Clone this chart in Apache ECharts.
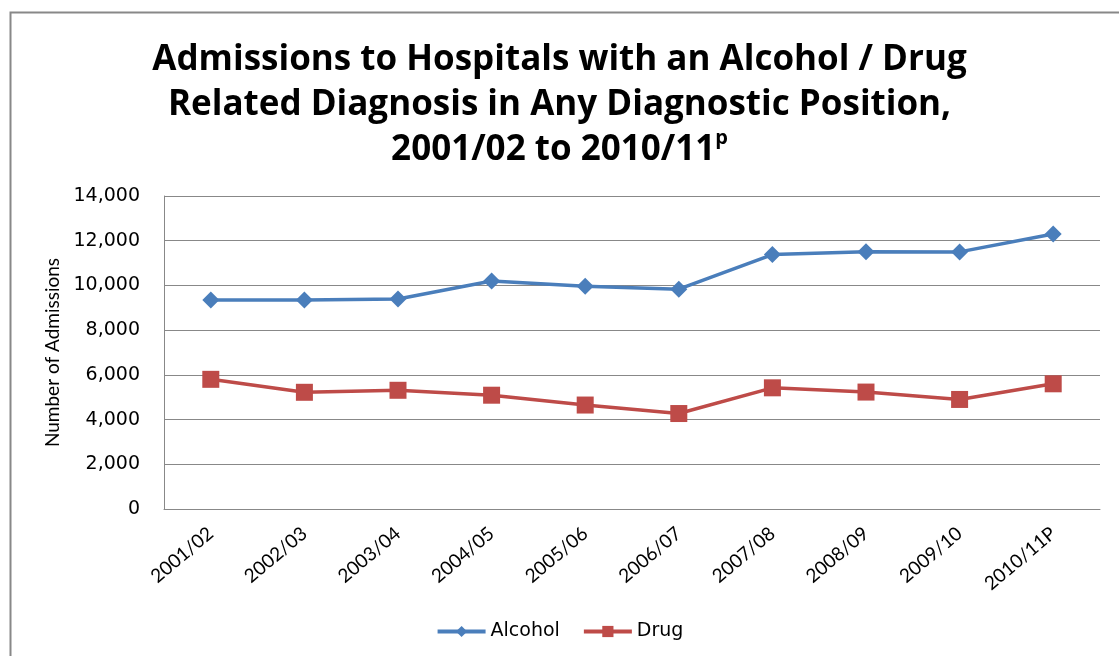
<!DOCTYPE html>
<html><head><meta charset="utf-8">
<script src="https://cdn.jsdelivr.net/npm/echarts@6/dist/echarts.min.js"></script>
<style>html,body{margin:0;padding:0;background:#fff}#c{width:1119px;height:656px}</style>
</head><body><div id="c"></div>
<script>
const categories = ['2001/02','2002/03','2003/04','2004/05','2005/06','2006/07','2007/08','2008/09','2009/10','2010/11P'];
const alcohol = [9350, 9350, 9390, 10200, 9960, 9830, 11380, 11510, 11500, 12300];
const drug = [5800, 5220, 5310, 5090, 4650, 4270, 5420, 5230, 4900, 5600];
const yTicks = {min: 0, max: 14000, interval: 2000};

const chart = echarts.init(document.getElementById('c'), null, {renderer: 'canvas'});
chart.setOption({
  backgroundColor: '#fff',
  animation: false,
  graphic: [{type: 'rect', shape: {x: 10.5, y: 12.5, width: 1130, height: 700}, style: {fill: 'none', stroke: '#888', lineWidth: 2}}],
  title: {
    text: 'Admissions to Hospitals with an Alcohol / Drug\nRelated Diagnosis in Any Diagnostic Position,\n2001/02 to 2010/11{sup|p}',
    left: 'center', top: 33,
    textStyle: {
      fontFamily: 'Open Sans', fontWeight: 'bold', fontSize: 35, color: '#000', lineHeight: 45,
      rich: {sup: {fontFamily: 'Open Sans', fontWeight: 'bold', fontSize: 20, verticalAlign: 'top', lineHeight: 45, padding: [0,0,14,0]}}
    }
  },
  legend: {
    bottom: 10, left: 'center', itemWidth: 48, itemHeight: 14, itemGap: 22,
    textStyle: {fontFamily: 'DejaVu Sans', fontSize: 19, color: '#000'},
    lineStyle: {width: 4},
    data: ['Alcohol', 'Drug']
  },
  grid: {left: 164, right: 19, top: 196, bottom: 147, containLabel: false},
  xAxis: {
    type: 'category', data: categories, boundaryGap: true,
    axisLine: {lineStyle: {color: '#888', width: 1}},
    axisTick: {show: false},
    axisLabel: {rotate: 40, fontFamily: 'Lato', fontSize: 19, color: '#000', margin: 22, interval: 0}
  },
  yAxis: {
    type: 'value', min: yTicks.min, max: yTicks.max, interval: yTicks.interval,
    name: 'Number of Admissions', nameLocation: 'middle', nameGap: 100, nameRotate: 90,
    nameTextStyle: {fontFamily: 'Lato', fontSize: 19, color: '#000'},
    axisLine: {show: true, lineStyle: {color: '#888'}},
    axisTick: {show: false},
    splitLine: {lineStyle: {color: '#888', width: 1}},
    axisLabel: {fontFamily: 'DejaVu Sans', fontSize: 19, color: '#000', margin: 24,
      formatter: v => v.toLocaleString('en-US')}
  },
  series: [
    {name: 'Alcohol', type: 'line', data: alcohol, symbol: 'diamond', symbolSize: 17,
      lineStyle: {color: '#4a7ebb', width: 3.5}, itemStyle: {color: '#4a7ebb'}},
    {name: 'Drug', type: 'line', data: drug, symbol: 'rect', symbolSize: 17,
      lineStyle: {color: '#be4b48', width: 3.5}, itemStyle: {color: '#be4b48'}}
  ]
});
</script></body></html>
